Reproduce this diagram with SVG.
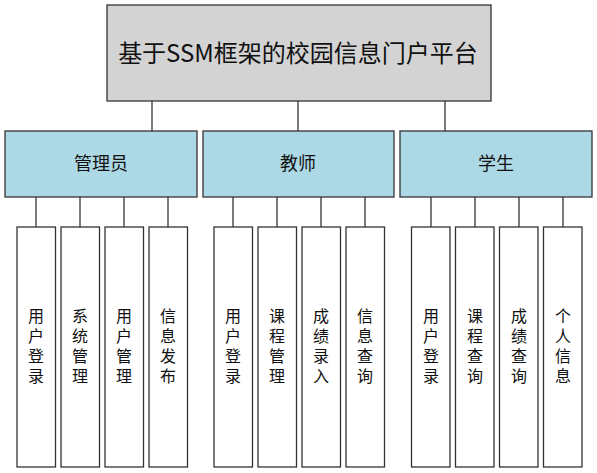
<svg xmlns="http://www.w3.org/2000/svg" width="597" height="473" viewBox="0 0 597 473">
<style>
.box{stroke:#333;stroke-width:1.3}
.root{fill:#d3d3d3}
.mid{fill:#add8e6}
.leaf{fill:#fff}
.t{font-family:"Noto Sans CJK SC","Microsoft YaHei",sans-serif;fill:#111;text-anchor:middle}
.v{font-family:"Noto Sans CJK SC","Microsoft YaHei",sans-serif;fill:#111;text-anchor:middle;font-size:16px;writing-mode:vertical-rl;letter-spacing:4px}
.conn line{stroke:#333;stroke-width:1.3}
</style>
<rect width="597" height="473" fill="#fff"/>
<g class="conn">
<line x1="152" y1="101" x2="152" y2="131"/>
<line x1="298" y1="101" x2="298" y2="131"/>
<line x1="445" y1="101" x2="445" y2="131"/>
<line x1="36" y1="197" x2="36" y2="227"/>
<line x1="80" y1="197" x2="80" y2="227"/>
<line x1="124" y1="197" x2="124" y2="227"/>
<line x1="168" y1="197" x2="168" y2="227"/>
<line x1="233" y1="197" x2="233" y2="227"/>
<line x1="277" y1="197" x2="277" y2="227"/>
<line x1="321" y1="197" x2="321" y2="227"/>
<line x1="365" y1="197" x2="365" y2="227"/>
<line x1="431" y1="197" x2="431" y2="227"/>
<line x1="475" y1="197" x2="475" y2="227"/>
<line x1="519" y1="197" x2="519" y2="227"/>
<line x1="563" y1="197" x2="563" y2="227"/>
</g>
<g id="root"><rect class="box root" x="107" y="5" width="384" height="96"/><text class="t" x="298" y="62" font-size="24">基于SSM框架的校园信息门户平台</text></g>
<g id="admin"><rect class="box mid" x="5" y="131" width="192" height="66"/><text class="t" x="101" y="170" font-size="18">管理员</text></g>
<g id="teacher"><rect class="box mid" x="203" y="131" width="191" height="66"/><text class="t" x="298" y="170" font-size="18">教师</text></g>
<g id="student"><rect class="box mid" x="400" y="131" width="192" height="66"/><text class="t" x="496" y="170" font-size="18">学生</text></g>
<g id="a1"><rect class="box leaf" x="17" y="227" width="38.5" height="240"/><text class="v" x="36" y="348">用户登录</text></g>
<g id="a2"><rect class="box leaf" x="61" y="227" width="38.5" height="240"/><text class="v" x="80" y="348">系统管理</text></g>
<g id="a3"><rect class="box leaf" x="105" y="227" width="38.5" height="240"/><text class="v" x="124" y="348">用户管理</text></g>
<g id="a4"><rect class="box leaf" x="149" y="227" width="38.5" height="240"/><text class="v" x="168" y="348">信息发布</text></g>
<g id="t1"><rect class="box leaf" x="214" y="227" width="38.5" height="240"/><text class="v" x="233" y="348">用户登录</text></g>
<g id="t2"><rect class="box leaf" x="258" y="227" width="38.5" height="240"/><text class="v" x="277" y="348">课程管理</text></g>
<g id="t3"><rect class="box leaf" x="302" y="227" width="38.5" height="240"/><text class="v" x="321" y="348">成绩录入</text></g>
<g id="t4"><rect class="box leaf" x="346" y="227" width="38.5" height="240"/><text class="v" x="365" y="348">信息查询</text></g>
<g id="s1"><rect class="box leaf" x="411.5" y="227" width="38.5" height="240"/><text class="v" x="431" y="348">用户登录</text></g>
<g id="s2"><rect class="box leaf" x="455.5" y="227" width="38.5" height="240"/><text class="v" x="475" y="348">课程查询</text></g>
<g id="s3"><rect class="box leaf" x="499.5" y="227" width="38.5" height="240"/><text class="v" x="519" y="348">成绩查询</text></g>
<g id="s4"><rect class="box leaf" x="543.5" y="227" width="38.5" height="240"/><text class="v" x="563" y="348">个人信息</text></g>
</svg>
